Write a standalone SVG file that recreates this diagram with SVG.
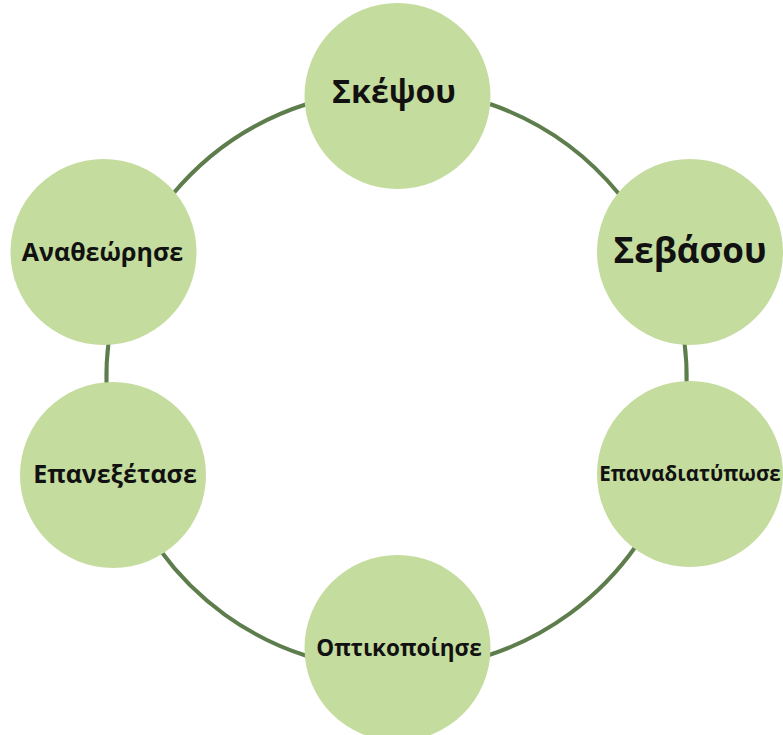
<svg xmlns="http://www.w3.org/2000/svg" width="783" height="735" viewBox="0 0 783 735">
<style>
.conn{fill:none;stroke:#5E7D4C;stroke-width:4;stroke-linecap:butt}
.node{fill:#C4DC9E}
.lbl{font-family:"Open Sans","Noto Sans","DejaVu Sans",sans-serif;font-weight:700;fill:#111;text-anchor:middle}
</style>
<rect width="783" height="735" fill="#fff"/>
<g id="connectors">
<path class="conn" d="M490 104 A290 290 0 0 1 619 194"/>
<path class="conn" d="M684.2 340 A290 290 0 0 1 686.6 386"/>
<path class="conn" d="M636 546 A290 290 0 0 1 486 656"/>
<path class="conn" d="M307 656 A290 290 0 0 1 160 550"/>
<path class="conn" d="M106.5 386 A290 290 0 0 1 108.8 340"/>
<path class="conn" d="M172 195 A290 290 0 0 1 307 104"/>
</g>
<g id="node-skepsou"><circle class="node" cx="397.5" cy="96" r="93"/><text class="lbl" x="394" y="103" font-size="32">Σκέψου</text></g>
<g id="node-sevasou"><circle class="node" cx="690" cy="252" r="93"/><text class="lbl" x="690" y="263" font-size="35">Σεβάσου</text></g>
<g id="node-epanadiatypose"><circle class="node" cx="690" cy="474" r="93"/><text class="lbl" x="690" y="481" font-size="20.5">Επαναδιατύπωσε</text></g>
<g id="node-optikopoiise"><circle class="node" cx="397.5" cy="648" r="93"/><text class="lbl" x="399" y="656" font-size="22.5">Οπτικοποίησε</text></g>
<g id="node-epanexetase"><circle class="node" cx="113" cy="475" r="93"/><text class="lbl" x="115" y="483" font-size="25">Επανεξέτασε</text></g>
<g id="node-anatheorise"><circle class="node" cx="103.5" cy="252" r="93"/><text class="lbl" x="102.5" y="261" font-size="25">Αναθεώρησε</text></g>
</svg>
